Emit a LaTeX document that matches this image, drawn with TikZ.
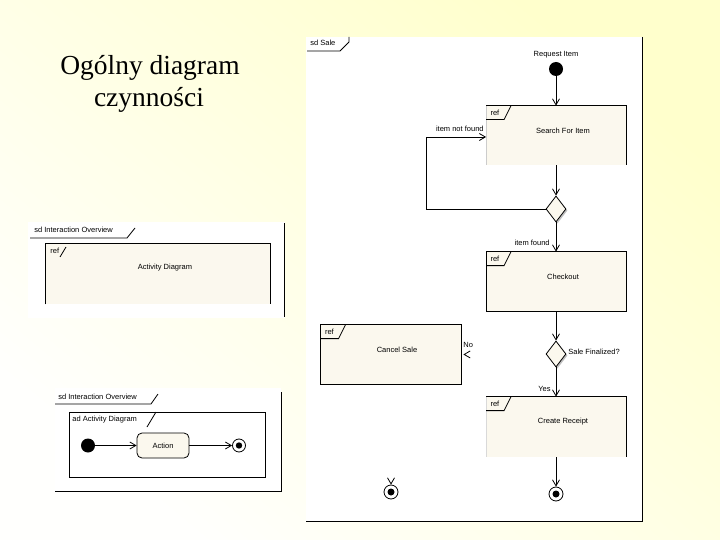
\documentclass[tikz,border=0pt]{standalone}
\usepackage{fontspec}
\setmainfont{Liberation Serif}
\newfontfamily\uisans{Liberation Sans}
\usetikzlibrary{arrows.meta,shapes.geometric,calc}
\definecolor{beige}{RGB}{251,248,238}
\definecolor{bgTR}{RGB}{255,255,204}
\definecolor{bgBL}{RGB}{255,255,253}
\begin{document}
\begin{tikzpicture}[x=1pt,y=-1pt, line width=0.8pt,
  txt/.style={font=\uisans\fontsize{7.5}{9}\selectfont, inner sep=0pt},
  title/.style={font=\fontsize{27.5}{32}\selectfont, inner sep=0pt, anchor=base},
  refbox/.style={fill=beige, minimum width=139pt, minimum height=59pt, inner sep=0pt, draw=none},
  dec/.style={diamond, fill=beige, draw=black, minimum width=20pt, minimum height=26pt, inner sep=0pt},
  decshadow/.style={diamond, fill=gray!50, draw=none, minimum width=20pt, minimum height=26pt, inner sep=0pt},
  initnode/.style={circle, fill=black, minimum size=14pt, inner sep=0pt},
  finalnode/.style={circle, draw=black, fill=white, minimum size=14pt, inner sep=0pt},
  arr/.style={draw=black, -{Straight Barb[length=6pt,width=7pt,black]}},
  hiddenarr/.style={draw=white, shorten <=2pt, -{Straight Barb[length=6pt,width=7pt,black]}}
]
\useasboundingbox (0,0) rectangle (720,540);
\shade[top color=bgTR, bottom color=bgBL, shading angle=-40] (0,0) rectangle (720,540);

% title
\node[title] (title1) at (150,75) {Ogólny diagram};
\node[title] (title2) at (149,107) {czynności};

% ---------- main frame: sd Sale ----------
\fill[white] (306,37) rectangle (642,521);
\draw (642,37) -- (642,521) -- (306,521);
\node[txt, anchor=west] (sdsale) at (310,43) {sd Sale};
\draw (307,51) -- (340,51) -- (349,42) -- (349,37);

\node[initnode] (start) at (556,69) {};
\node[txt] (startlbl) at (556,55) {Request Item};

% Search For Item
\node[refbox] (search) at (556,135.5) {};
\draw (search.north west) -- (search.north east) -- (search.south east);
\draw[gray!40] (search.north west) -- (search.south west);
\node[txt, anchor=west] (searchref) at ([xshift=4pt,yshift=-7pt]search.north west) {ref};
\draw ([yshift=-14pt]search.north west) -- ++(18,0) -- ++(7,-14);
\node[txt] (searcht) at ([xshift=7pt,yshift=5pt]search.center) {Search For Item};

% decision 1
\node[decshadow] (d1s) at (557.5,210.5) {};
\node[dec] (d1) at (556,209) {};

% Checkout
\node[refbox] (checkout) at (556,281.5) {};
\draw (checkout.north west) rectangle (checkout.south east);
\node[txt, anchor=west] (checkoutref) at ([xshift=4pt,yshift=-7pt]checkout.north west) {ref};
\draw ([yshift=-14pt]checkout.north west) -- ++(18,0) -- ++(7,-14);
\node[txt] (checkoutt) at ([xshift=7pt,yshift=5pt]checkout.center) {Checkout};

% decision 2
\node[decshadow] (d2s) at (557.5,355.5) {};
\node[dec] (d2) at (556,354) {};
\node[txt, anchor=west] (d2lbl) at (568,352) {Sale Finalized?};

% Cancel Sale
\node[refbox, minimum width=140pt] (cancel) at (391,354.5) {};
\draw (cancel.north west) rectangle (cancel.south east);
\node[txt, anchor=west] (cancelref) at ([xshift=4pt,yshift=-7pt]cancel.north west) {ref};
\draw ([yshift=-14pt]cancel.north west) -- ++(18,0) -- ++(7,-14);
\node[txt] (cancelt) at ([xshift=6pt,yshift=5pt]cancel.center) {Cancel Sale};

% Create Receipt
\node[refbox, minimum height=60pt] (receipt) at (556,427) {};
\draw (receipt.north west) -- (receipt.north east) -- (receipt.south east);
\draw[gray!30] (receipt.north west) -- (receipt.south west);
\node[txt, anchor=west] (receiptref) at ([xshift=4pt,yshift=-7pt]receipt.north west) {ref};
\draw ([yshift=-14pt]receipt.north west) -- ++(18,0) -- ++(7,-14);
\node[txt] (receiptt) at ([xshift=7pt,yshift=5pt]receipt.center) {Create Receipt};

% final nodes
\node[finalnode] (end1) at (556,494) {};
\fill (end1.center) circle (3.5pt);
\node[finalnode] (end2) at (391,492) {};
\fill (end2.center) circle (3.5pt);

% connectors
\coordinate (lpc) at (426,137);
\draw[arr] (start) -- (search.north);
\draw[arr] (search.south) -- (d1.north);
\draw[arr] (d1.west) -| (lpc) -- (lpc -| search.west);
\node[txt, anchor=east] (notfound) at (484,129) {item not found};
\draw[arr] (d1.south) -- (checkout.north);
\node[txt, anchor=east] (found) at (550,243) {item found};
\draw[arr] (checkout.south) -- (d2.north);
\draw[hiddenarr, shorten >=2pt] (d2.west) -- (cancel.east);
\node[txt, anchor=west] (nolbl) at (463,345) {No};
\draw[arr] (d2.south) -- (receipt.north);
\node[txt, anchor=east] (yeslbl) at (551,389) {Yes};
\draw[arr] (receipt.south) -- (end1.north);
\draw[hiddenarr] (cancel.south) -- (end2.north);

% ---------- sub-image 1 ----------
\fill[white] (28,222) rectangle (285,318);
\draw (284,223) -- (284,317);
\node[txt, anchor=west] (sd1) at (34,230) {sd Interaction Overview};
\draw (30,238) -- (127,238) -- (135,228);
\node[fill=beige, minimum width=224pt, minimum height=60pt, inner sep=0pt] (adbox) at (158,274) {};
\draw (adbox.south west) -- (adbox.north west) -- (adbox.north east) -- (adbox.south east);
\node[txt, anchor=west] (adref) at (50,251) {ref};
\draw (60,257) -- (66,247);
\node[txt] (adt) at (165,268) {Activity Diagram};

% ---------- sub-image 2 ----------
\fill[white] (55,388) rectangle (281,491);
\draw (281,392) -- (281,491) -- (55,491);
\node[txt, anchor=west] (sd2) at (58,397) {sd Interaction Overview};
\draw (55,404) -- (151,404) -- (158,394);
\node[draw=black, fill=white, minimum width=196pt, minimum height=65pt, inner sep=0pt] (adframe) at (167,444.5) {};
\node[txt, anchor=west] (adlbl) at (72,420) {ad Activity Diagram};
\draw (147,427) -- (156,412);
\node[initnode] (ini2) at (88,445.5) {};
\node[draw=black, fill=beige, rounded corners=5pt, minimum width=52pt, minimum height=25pt, inner sep=0pt, font=\uisans\fontsize{7.5}{9}\selectfont] (action) at (163,445.5) {Action};
\node[finalnode, minimum size=13pt] (fin2) at (239,445.5) {};
\fill (fin2.center) circle (3.2pt);
\draw[arr] (ini2) -- (action);
\draw[arr] (action) -- (fin2);
\end{tikzpicture}
\end{document}
